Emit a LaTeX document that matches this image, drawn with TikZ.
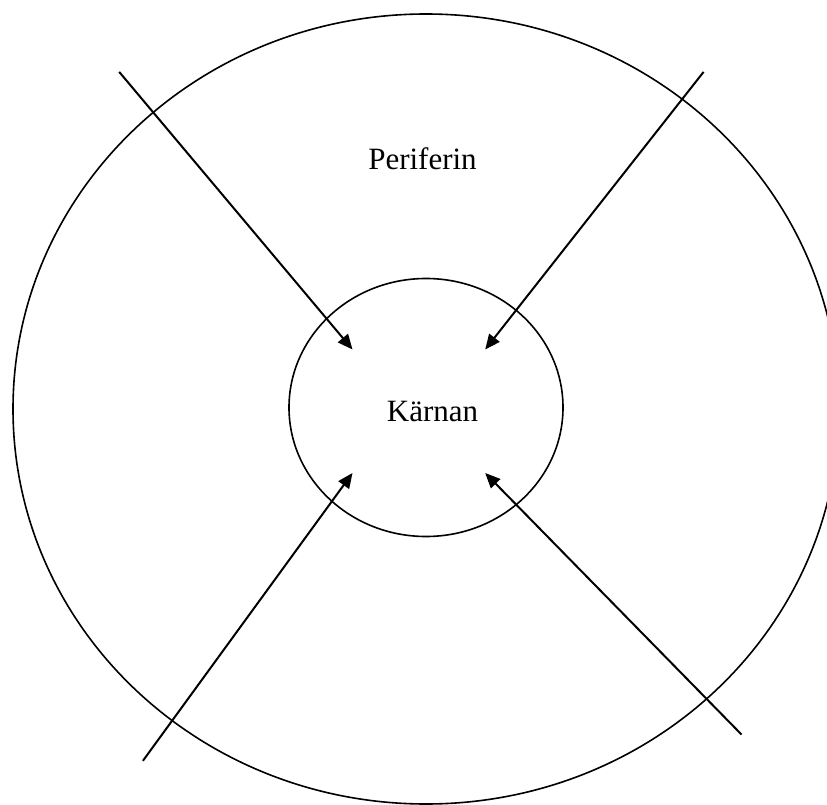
\documentclass[tikz,border=0pt]{standalone}
\usepackage{fontspec}
\setmainfont{Liberation Serif}
\usetikzlibrary{arrows.meta,shapes.geometric}
\begin{document}
\begin{tikzpicture}[x=1pt,y=-1pt,
  ring/.style={draw=black, line width=1.6pt, ellipse, inner sep=0pt},
  label/.style={font=\fontsize{31}{36}\selectfont, anchor=base, inner sep=0pt},
  inarrow/.style={draw=black, line width=2pt, -{Triangle[length=15pt,width=13pt]}}]
\useasboundingbox (0,0) rectangle (827,805);
\clip (0,0) rectangle (827,805);
\fill[white] (0,0) rectangle (827,805);
\node[ring, minimum width=826pt, minimum height=790pt] (peri) at (426,409) {};
\node[ring, minimum width=274pt, minimum height=258pt] (karn) at (426,407.5) {};
\node[label] (tperi) at (422.5,169.5) {Periferin};
\node[label] (tkarn) at (432.5,421.7) {Kärnan};
\coordinate (s1) at (119.2,71.9);
\coordinate (s2) at (703.6,71.9);
\coordinate (s3) at (142.9,760.8);
\coordinate (s4) at (741.6,734.6);
\coordinate (e1) at (352.5,349.5);
\coordinate (e2) at (485.2,349.5);
\coordinate (e3) at (352.5,473.0);
\coordinate (e4) at (485.2,473.0);
\draw[inarrow] (s1) -- (e1);
\draw[inarrow] (s2) -- (e2);
\draw[inarrow] (s3) -- (e3);
\draw[inarrow] (s4) -- (e4);
\end{tikzpicture}
\end{document}
